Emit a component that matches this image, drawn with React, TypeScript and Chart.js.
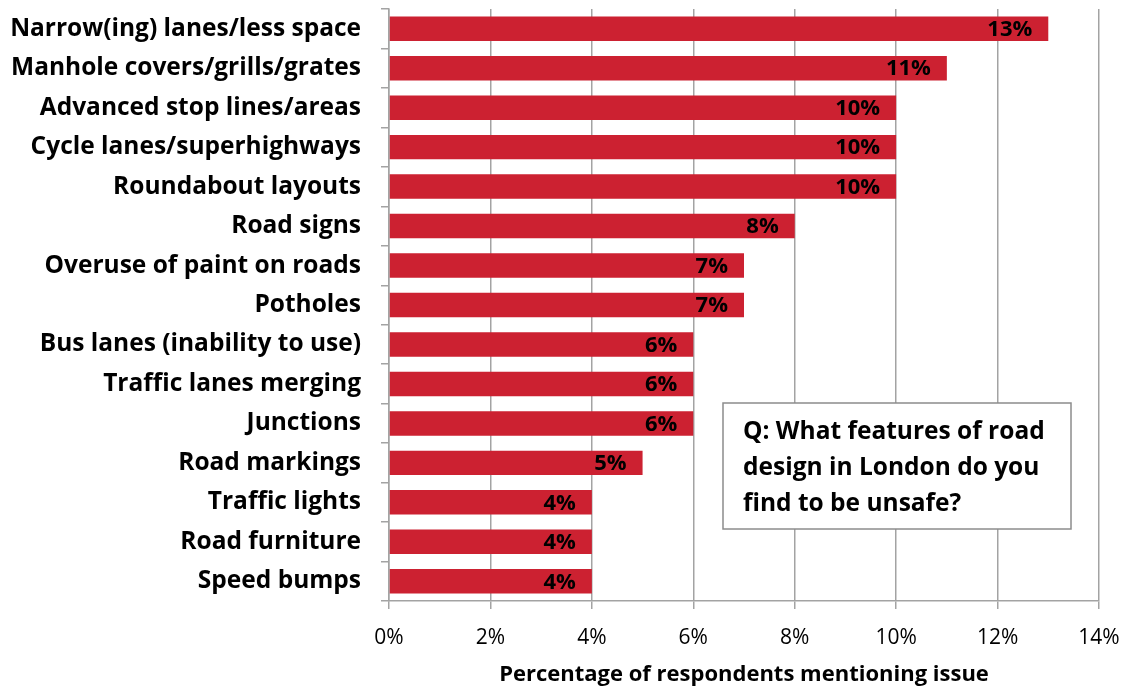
import React, { useEffect, useRef } from "react";
import { Chart, registerables } from "chart.js";

Chart.register(...registerables);

const categories = [
  "Narrow(ing) lanes/less space",
  "Manhole covers/grills/grates",
  "Advanced stop lines/areas",
  "Cycle lanes/superhighways",
  "Roundabout layouts",
  "Road signs",
  "Overuse of paint on roads",
  "Potholes",
  "Bus lanes (inability to use)",
  "Traffic lanes merging",
  "Junctions",
  "Road markings",
  "Traffic lights",
  "Road furniture",
  "Speed bumps",
];
const values = [13, 11, 10, 10, 10, 8, 7, 7, 6, 6, 6, 5, 4, 4, 4];
const xAxisTitle = "Percentage of respondents mentioning issue";
const noteLines = ["Q: What features of road", "design in London do you", "find to be unsafe?"];

const FONT = "'Open Sans', sans-serif";
const GRID = "#a3a3a3";
const BAR = "#cc2131";

const labelPlugin = {
  id: "valueLabels",
  afterDatasetsDraw(chart: any) {
    const ctx = chart.ctx;
    const meta = chart.getDatasetMeta(0);
    ctx.save();
    ctx.font = `bold 22px ${FONT}`;
    ctx.fillStyle = "#000";
    ctx.textAlign = "right";
    ctx.textBaseline = "middle";
    meta.data.forEach((el: any, i: number) => {
      ctx.fillText(values[i] + "%", el.x - 16, el.y + 1);
    });
    ctx.restore();
  },
};

const notePlugin = {
  id: "noteBox",
  afterDraw(chart: any) {
    const ctx = chart.ctx;
    ctx.save();
    ctx.fillStyle = "#fff";
    ctx.fillRect(723, 403, 348, 126);
    ctx.strokeStyle = "#8c8c8c";
    ctx.lineWidth = 1.5;
    ctx.strokeRect(723, 403, 348, 126);
    ctx.fillStyle = "#000";
    ctx.font = `bold 24.5px ${FONT}`;
    ctx.textAlign = "left";
    ctx.textBaseline = "middle";
    noteLines.forEach((t, i) => ctx.fillText(t, 743, 432 + i * 36));
    ctx.restore();
  },
};

export default function App() {
  const ref = useRef<HTMLCanvasElement>(null);
  useEffect(() => {
    if (!ref.current) return;
    const chart = new Chart(ref.current, {
      type: "bar",
      data: {
        labels: categories,
        datasets: [
          {
            data: values,
            backgroundColor: BAR,
            borderWidth: 0,
            barPercentage: 0.62,
            categoryPercentage: 1,
          },
        ],
      },
      options: {
        indexAxis: "y",
        animation: false,
        responsive: false,
        maintainAspectRatio: false,
        layout: { padding: { top: 9, right: 28, bottom: 0, left: 0 } },
        plugins: { legend: { display: false }, tooltip: { enabled: false } },
        scales: {
          x: {
            min: 0,
            max: 14,
            ticks: {
              stepSize: 2,
              callback: (v: any) => v + "%",
              font: { family: FONT, size: 21 },
              color: "#000",
              padding: 16,
            },
            grid: { color: GRID, lineWidth: 1.5, tickLength: 8, drawTicks: true },
            border: { color: GRID, width: 1.5 },
            title: {
              display: true,
              text: xAxisTitle,
              font: { family: FONT, size: 22, weight: "bold" },
              color: "#000",
              padding: { top: 0, bottom: 3 },
            },
            afterFit: (s: any) => {
              s.height = 90;
              s.paddingLeft = 0;
              s.paddingRight = 0;
            },
          },
          y: {
            offset: true,
            ticks: {
              font: { family: FONT, size: 24.5, weight: "bold" },
              color: "#000",
              padding: 20,
            },
            grid: {
              offset: true,
              drawOnChartArea: false,
              drawTicks: true,
              tickLength: 8,
              color: GRID,
              lineWidth: 1.5,
            },
            border: { color: GRID, width: 1.5 },
            afterFit: (s: any) => {
              s.width = 389;
              s.paddingTop = 0;
              s.paddingBottom = 0;
            },
          },
        },
      },
      plugins: [labelPlugin, notePlugin],
    } as any);
    return () => chart.destroy();
  }, []);
  return (
    <div style={{ position: "absolute", left: 0, top: 0, width: 1127, height: 691, background: "#fff" }}>
      <canvas ref={ref} width={1127} height={691} />
    </div>
  );
}
